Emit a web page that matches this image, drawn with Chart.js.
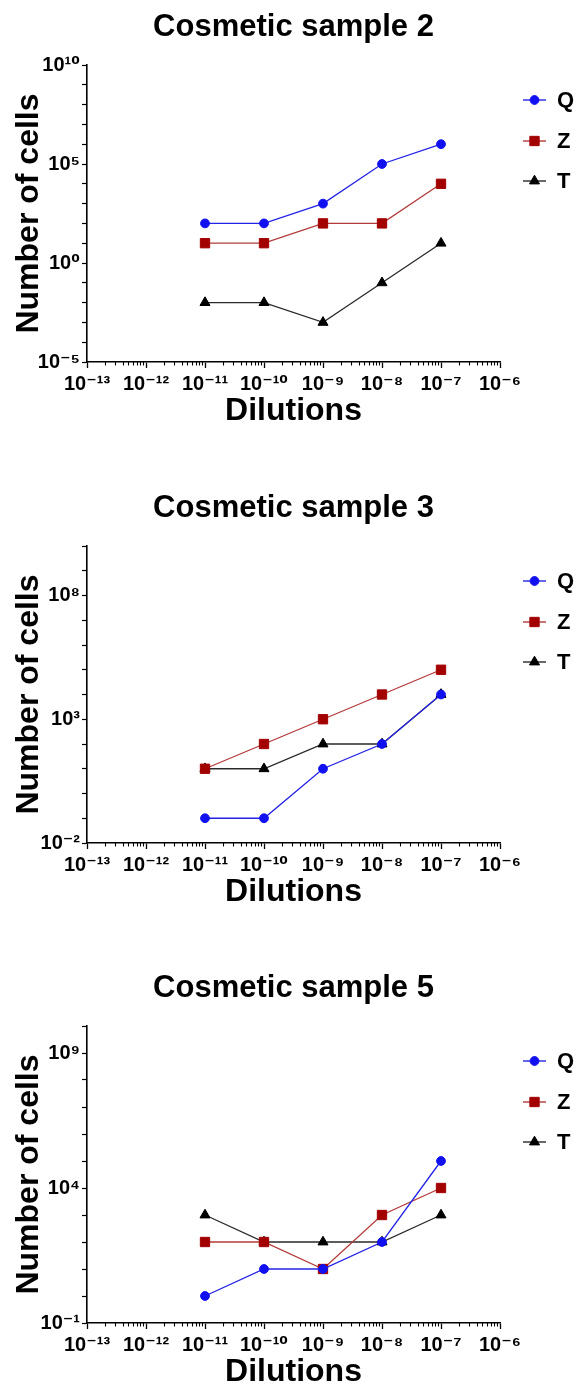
<!DOCTYPE html>
<html><head><meta charset="utf-8">
<script src="https://cdn.jsdelivr.net/npm/chart.js@4.4.1/dist/chart.umd.min.js"></script>
<style>
html,body{margin:0;padding:0;background:#fff;overflow:hidden;}
.box{position:absolute;left:0;width:577px;height:480px;}
canvas{display:block;}
</style></head><body>
<div class="box" style="top:0px"><canvas id="c1" width="577" height="480"></canvas></div>
<div class="box" style="top:481px"><canvas id="c2" width="577" height="480"></canvas></div>
<div class="box" style="top:961px"><canvas id="c3" width="577" height="480"></canvas></div>
<script>
// ---------- data ----------
const dilutions = [1e-11, 1e-10, 1e-9, 1e-8, 1e-7];
const seriesNames = ['Q', 'Z', 'T'];
const chartTitles = ['Cosmetic sample 2', 'Cosmetic sample 3', 'Cosmetic sample 5'];

const sample2Q = [1e2, 1e2, 1e3, 1e5, 1e6];
const sample2Z = [1e1, 1e1, 1e2, 1e2, 1e4];
const sample2T = [1e-2, 1e-2, 1e-3, 1e-1, 1e1];

const sample3Q = [1e-1, 1e-1, 1e1, 1e2, 1e4];
const sample3Z = [1e1, 1e2, 1e3, 1e4, 1e5];
const sample3T = [1e1, 1e1, 1e2, 1e2, 1e4];

const sample5Q = [1e0, 1e1, 1e1, 1e2, 1e5];
const sample5Z = [1e2, 1e2, 1e1, 1e3, 1e4];
const sample5T = [1e3, 1e2, 1e2, 1e2, 1e3];

const xTickValues = [1e-13, 1e-12, 1e-11, 1e-10, 1e-9, 1e-8, 1e-7, 1e-6];
const xTickLabels = ['10⁻¹³', '10⁻¹²', '10⁻¹¹', '10⁻¹⁰', '10⁻⁹', '10⁻⁸', '10⁻⁷', '10⁻⁶'];
const minorMultipliers = [2, 3, 4, 5, 6, 7, 8, 9];

const yTickValues2 = [1e-5, 1e-4, 1e-3, 1e-2, 1e-1, 1e0, 1e1, 1e2, 1e3, 1e4, 1e5, 1e6, 1e7, 1e8, 1e9, 1e10];
const yLabelValues2 = [1e-5, 1e0, 1e5, 1e10];
const yLabelTexts2 = ['10⁻⁵', '10⁰', '10⁵', '10¹⁰'];

const yTickValues3 = [1e-2, 1e-1, 1e0, 1e1, 1e2, 1e3, 1e4, 1e5, 1e6, 1e7, 1e8, 1e9, 1e10];
const yLabelValues3 = [1e-2, 1e3, 1e8];
const yLabelTexts3 = ['10⁻²', '10³', '10⁸'];

const yTickValues5 = [1e-1, 1e0, 1e1, 1e2, 1e3, 1e4, 1e5, 1e6, 1e7, 1e8, 1e9, 1e10];
const yLabelValues5 = [1e-1, 1e4, 1e9];
const yLabelTexts5 = ['10⁻¹', '10⁴', '10⁹'];

// ---------- styling ----------
const FONT = "'Liberation Sans', Arial, 'DejaVu Sans', sans-serif";
const styles = [
  {line: '#2323e6', fill: '#1010f0', pointStyle: 'circle', radius: 4.4},
  {line: '#b43a3a', fill: '#a30000', pointStyle: 'rect', radius: 6.6},
  {line: '#2a2a2a', fill: '#000000', pointStyle: 'triangle', radius: 5.8}
];
const exp10 = v => Math.round(Math.log10(v));

const minorTicksPlugin = {
  id: 'minorTicks',
  afterDraw(chart) {
    const xs = chart.scales.x, ctx = chart.ctx;
    ctx.save();
    ctx.strokeStyle = '#000';
    ctx.lineWidth = 1.1;
    for (let i = 0; i < xTickValues.length - 1; i++) {
      for (const m of minorMultipliers) {
        const px = Math.round(xs.getPixelForValue(m * xTickValues[i])) + 0.5;
        ctx.beginPath();
        ctx.moveTo(px, xs.top);
        ctx.lineTo(px, xs.top + 3.5);
        ctx.stroke();
      }
    }
    ctx.restore();
  }
};

const legendPlugin = {
  id: 'sideLegend',
  afterDraw(chart) {
    const ctx = chart.ctx;
    const ys = [100, 141, 181];
    chart.data.datasets.forEach((ds, i) => {
      const y = ys[i];
      ctx.save();
      ctx.strokeStyle = ds.borderColor;
      ctx.lineWidth = 1.4;
      ctx.beginPath();
      ctx.moveTo(523, y);
      ctx.lineTo(546, y);
      ctx.stroke();
      ctx.fillStyle = ds.pointBackgroundColor;
      ctx.strokeStyle = ds.pointBorderColor;
      ctx.lineWidth = 1;
      Chart.helpers.drawPoint(ctx, {pointStyle: ds.pointStyle, radius: ds.pointRadius, rotation: 0, borderWidth: 1}, 534.5, y);
      ctx.fillStyle = '#000';
      ctx.font = 'bold 22px ' + FONT;
      ctx.textBaseline = 'middle';
      ctx.textAlign = 'left';
      ctx.fillText(ds.label, 557, y + 1);
      ctx.restore();
    });
  }
};

function makeChart(id, title, series, yMin, yMax, yTickValues, yLabelValues, yLabelTexts) {
  const datasets = series.map((vals, i) => ({
    label: seriesNames[i],
    data: dilutions.map((d, j) => ({x: d, y: vals[j]})),
    borderColor: styles[i].line,
    borderWidth: 1.3,
    pointStyle: styles[i].pointStyle,
    pointRadius: styles[i].radius,
    pointBackgroundColor: styles[i].fill,
    pointBorderColor: styles[i].fill,
    pointBorderWidth: 1,
    tension: 0,
    fill: false
  }));
  return new Chart(document.getElementById(id), {
    type: 'line',
    data: {datasets},
    plugins: [minorTicksPlugin, legendPlugin],
    options: {
      responsive: false,
      animation: false,
      devicePixelRatio: 1,
      layout: {padding: {left: 0, right: 77, top: 0, bottom: 0}},
      plugins: {
        legend: {display: false},
        tooltip: {enabled: false},
        title: {
          display: true, text: title, fullSize: false, color: '#000',
          font: {family: FONT, size: 31, weight: 'bold', lineHeight: 1.2},
          padding: {top: 9, bottom: 18.8}
        }
      },
      scales: {
        x: {
          type: 'logarithmic', position: 'bottom', min: xTickValues[0], max: xTickValues[xTickValues.length - 1],
          afterFit(s) { s.height = 118; },
          afterBuildTicks(s) { s.ticks = xTickValues.map(v => ({value: v, major: true})); },
          ticks: {
            autoSkip: false, maxRotation: 0, minRotation: 0, padding: 4, color: '#000',
            font: {family: FONT, size: 20, weight: 'bold'},
            major: {enabled: false},
            callback: (v, i) => xTickLabels[i]
          },
          grid: {drawOnChartArea: false, drawTicks: true, tickLength: 6, tickColor: '#000', tickWidth: 1.3},
          border: {color: '#000', width: 1.6},
          title: {
            display: true, text: 'Dilutions', color: '#000',
            font: {family: FONT, size: 32, weight: 'bold'},
            padding: {top: 0, bottom: 50}
          }
        },
        y: {
          type: 'logarithmic', position: 'left', min: yMin, max: yMax,
          afterFit(s) { s.width = 87; },
          afterBuildTicks(s) { s.ticks = yTickValues.map(v => ({value: v})); },
          ticks: {
            autoSkip: false, padding: 2, color: '#000',
            font: {family: FONT, size: 20, weight: 'bold'},
            callback: (v) => {
              const k = yLabelValues.findIndex(lv => exp10(lv) === exp10(v));
              return k >= 0 ? yLabelTexts[k] : '';
            }
          },
          grid: {drawOnChartArea: false, drawTicks: true, tickLength: 5, tickColor: '#000', tickWidth: 1.2},
          border: {color: '#000', width: 1.6},
          title: {
            display: true, text: 'Number of cells', color: '#000',
            font: {family: FONT, size: 32, weight: 'bold'},
            padding: {top: 10, bottom: 0}
          }
        }
      }
    }
  });
}

makeChart('c1', chartTitles[0], [sample2Q, sample2Z, sample2T], yTickValues2[0], yTickValues2[yTickValues2.length - 1], yTickValues2, yLabelValues2, yLabelTexts2);
makeChart('c2', chartTitles[1], [sample3Q, sample3Z, sample3T], yTickValues3[0], yTickValues3[yTickValues3.length - 1], yTickValues3, yLabelValues3, yLabelTexts3);
makeChart('c3', chartTitles[2], [sample5Q, sample5Z, sample5T], yTickValues5[0], yTickValues5[yTickValues5.length - 1], yTickValues5, yLabelValues5, yLabelTexts5);
</script>
</body></html>
